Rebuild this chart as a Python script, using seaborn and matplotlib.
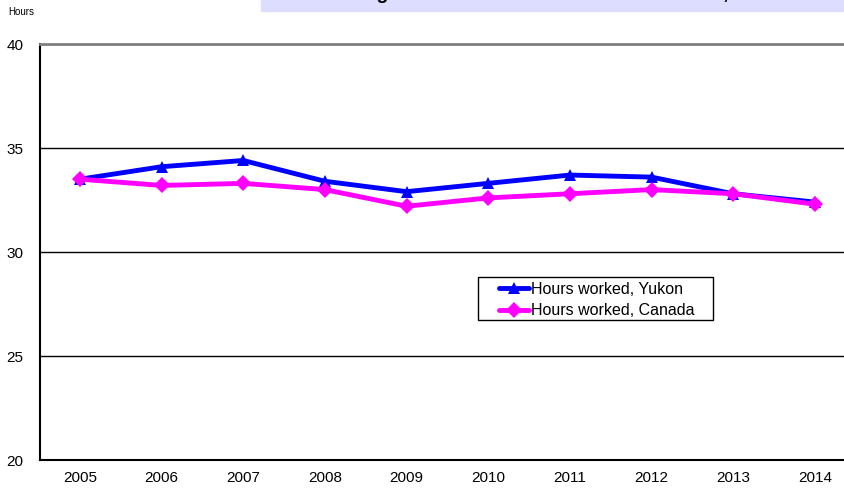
import pandas as pd
import matplotlib.pyplot as plt
import seaborn as sns

# datos
years = ['2005', '2006', '2007', '2008', '2009', '2010', '2011', '2012', '2013', '2014']
yukon = [33.5, 34.1, 34.4, 33.4, 32.9, 33.3, 33.7, 33.6, 32.8, 32.4]
canada = [33.5, 33.2, 33.3, 33.0, 32.2, 32.6, 32.8, 33.0, 32.8, 32.3]
series_names = ['Hours worked, Yukon', 'Hours worked, Canada']

df = pd.DataFrame({
    'Year': years * 2,
    'Hours': yukon + canada,
    'Series': [series_names[0]] * len(years) + [series_names[1]] * len(years),
})

sns.set_style("white")
plt.rcParams['font.family'] = ['Liberation Sans', 'DejaVu Sans']
plt.rcParams['text.color'] = 'black'
plt.rcParams['xtick.color'] = 'black'
plt.rcParams['ytick.color'] = 'black'

fig = plt.figure(figsize=(8.45, 4.88), dpi=100)
W, H = 845, 488
ax = fig.add_axes([40 / W, 1 - 460 / H, 805 / W, 416 / H])

sns.lineplot(data=df, x='Year', y='Hours', hue='Series', style='Series',
             palette={series_names[0]: '#0000FF', series_names[1]: '#FF00FF'},
             markers={series_names[0]: '^', series_names[1]: 'D'},
             dashes=False, linewidth=3.5, markersize=8.5, markeredgewidth=0,
             sort=False, ax=ax, zorder=3)

ax.set_xlim(-0.49, 9.37)
ax.set_ylim(20, 40)
ax.set_yticks([20, 25, 30, 35, 40])
ax.set_xlabel('')
ax.set_ylabel('')
ax.grid(axis='y', color='black', linewidth=1)
ax.tick_params(axis='y', length=0, pad=12, labelsize=11)
ax.tick_params(axis='x', length=0, pad=8, labelsize=11)

ax.spines['right'].set_visible(False)
ax.spines['top'].set_color('#808080')
ax.spines['top'].set_linewidth(2)
ax.spines['left'].set_color('black')
ax.spines['left'].set_linewidth(1.5)
ax.spines['bottom'].set_color('black')
ax.spines['bottom'].set_linewidth(1.5)

# leyenda sin marco + recuadro dibujado aparte (más margen a los lados)
handles, labels = ax.get_legend_handles_labels()
leg = ax.legend(handles, labels, loc='upper left', bbox_to_anchor=(0.570, 0.428),
                borderaxespad=0, borderpad=0, fontsize=11.5, frameon=False,
                handlelength=1.9, handletextpad=0.12, labelspacing=0.4)
ax.add_patch(plt.Rectangle((0.5441, 0.3365), 0.2919, 0.1034, transform=ax.transAxes,
                           facecolor='white', edgecolor='black', linewidth=1,
                           zorder=4))
leg.set_zorder(5)

# etiqueta de unidades y título recortado arriba
fig.text(8 / W, 1 - 15 / H, 'Hours', fontsize=7)
fig.patches.append(plt.Rectangle((261 / W, 1 - 11 / H), 1 - 261 / W, 11 / H,
                                 transform=fig.transFigure, color='#DDDDFF',
                                 zorder=0))
fig.text(323 / W, 1 + 1 / H, 'Average Hours Worked: Yukon and Canada, 2005 to 2014',
         fontsize=14, fontweight='bold', va='baseline', ha='left')

fig.savefig('out.png', dpi=100)
